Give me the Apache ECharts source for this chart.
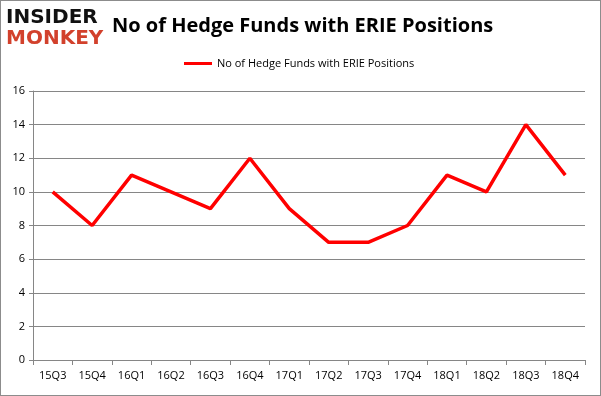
<!DOCTYPE html>
<html>
<head>
<meta charset="utf-8">
<script src="https://cdn.jsdelivr.net/npm/echarts@6/dist/echarts.min.js"></script>
<style>
  html, body { margin: 0; padding: 0; background: #fff; }
  #chart { width: 601px; height: 396px; box-sizing: border-box; border: 1px solid #8c8c8c; }
</style>
</head>
<body>
<div id="chart"></div>
<script>
  const categories = ['15Q3', '15Q4', '16Q1', '16Q2', '16Q3', '16Q4', '17Q1', '17Q2', '17Q3', '17Q4', '18Q1', '18Q2', '18Q3', '18Q4']
  const funds = [10, 8, 11, 10, 9, 12, 9, 7, 7, 8, 11, 10, 14, 11]
  const seriesName = 'No of Hedge Funds with ERIE Positions'

  const myChart = echarts.init(document.getElementById('chart'))
  const font = 'Open Sans'
  const option = {
    animation: false,
    title: {
      text: 'No of Hedge Funds with ERIE Positions',
      left: 106,
      top: 10,
      textStyle: { fontFamily: font, fontSize: 20, fontWeight: 'bold', color: '#000' }
    },
    graphic: [
      {
        type: 'text', left: 5, top: 7,
        style: { text: 'INSIDER', fontFamily: 'DejaVu Sans', fontSize: 20, fontWeight: 'bold', fill: '#111' }
      },
      {
        type: 'text', left: 5, top: 28,
        style: { text: 'MONKEY', fontFamily: 'DejaVu Sans', fontSize: 20, fontWeight: 'bold', fill: '#d2412c' }
      }
    ],
    legend: {
      data: [seriesName],
      top: 52,
      left: 178,
      itemWidth: 28,
      itemHeight: 3,
      icon: 'rect',
      textStyle: { fontFamily: font, fontSize: 11, color: '#000' }
    },
    grid: { left: 32, right: 15, top: 90, bottom: 35 },
    xAxis: {
      type: 'category',
      data: categories,
      boundaryGap: true,
      axisLine: { lineStyle: { color: '#868686' } },
      axisTick: { show: true, length: 5, lineStyle: { color: '#868686' } },
      axisLabel: { fontFamily: font, fontSize: 11, color: '#000', margin: 10 }
    },
    yAxis: {
      type: 'value',
      min: 0,
      max: 16,
      interval: 2,
      axisLine: { show: true, lineStyle: { color: '#868686' } },
      axisTick: { show: true, length: 4, inside: false, lineStyle: { color: '#868686' } },
      axisLabel: { fontFamily: font, fontSize: 11, color: '#000', margin: 8 },
      splitLine: { lineStyle: { color: '#868686' } }
    },
    series: [
      {
        name: seriesName,
        type: 'line',
        data: funds,
        symbol: 'none',
        lineStyle: { color: '#ff0000', width: 3.5 },
        itemStyle: { color: '#ff0000' }
      }
    ]
  }
  myChart.setOption(option)
</script>
</body>
</html>
